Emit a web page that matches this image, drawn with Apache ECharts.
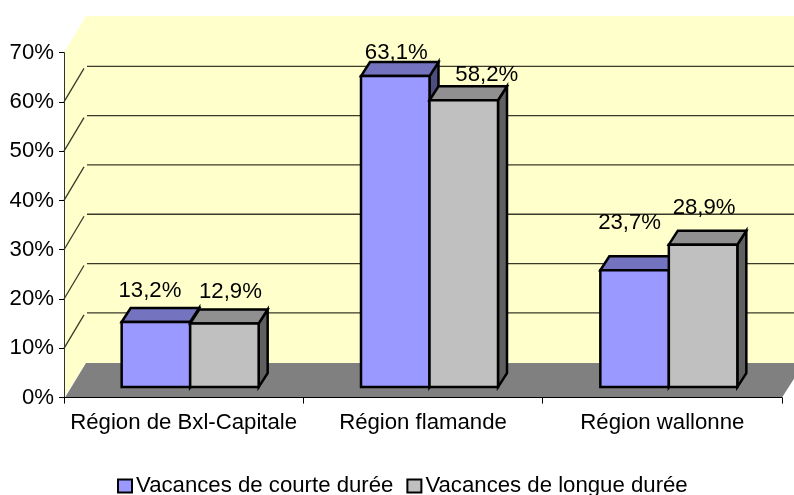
<!DOCTYPE html>
<html>
<head>
<meta charset="utf-8">
<style>html,body{margin:0;padding:0;background:#fff}#c{width:794px;height:495px}</style>
<script src="https://cdn.jsdelivr.net/npm/echarts@6/dist/echarts.min.js"></script>
</head>
<body>
<div id="c"></div>
<script>
var categories = ['Région de Bxl-Capitale', 'Région flamande', 'Région wallonne'];
var courteDuree = [13.2, 63.1, 23.7];
var longueDuree = [12.9, 58.2, 28.9];
var seriesNames = ['Vacances de courte durée', 'Vacances de longue durée'];
var gridValues = [10, 20, 30, 40, 50, 60];

// layout / style, kept apart from the data
var FONT = '"Liberation Sans", Arial, sans-serif';
var FS = 22.2;
var WALL_DX = 22, WALL_DY = 35.5;          // chart depth
var WALL_TOP_DY = 36.5, FLOOR_DY = 34.5;   // wall top edge and floor back edge
var BAR_OFF_DX = 6.5, BAR_OFF_DY = 10.5;   // bar front from axis plane
var BAR_DX = 9, BAR_DY = 14;               // bar depth
var BAR_W = 68.5;
var BAR_LW = 2.5;
var colors = [
  {front: '#9999FF', top: '#7373BF', side: '#4D4D80'},
  {front: '#C0C0C0', top: '#909090', side: '#606060'}
];
// hand-placed label centres relative to the top of each bar's front-face centre
var labelNudge = [
  [[-6, -31], [6, -32]],
  [[1, -23], [23, -25]],
  [[-5, -47], [1, -37]]
];

var chart = echarts.init(document.getElementById('c'), null, {renderer: 'canvas'});

function poly(points, fill, stroke, lw) {
  return {
    type: 'polygon', shape: {points: points},
    style: {fill: fill, stroke: stroke || null, lineWidth: lw || 0, lineJoin: 'miter'}
  };
}
function seg(x1, y1, x2, y2) {
  return {type: 'line', shape: {x1: x1, y1: y1, x2: x2, y2: y2},
    style: {stroke: '#3a3a2a', lineWidth: 1.3}};
}

function renderWall(params, api) {
  var c = params.coordSys, l = c.x, r = c.x + c.width, t = c.y, b = c.y + c.height;
  return {type: 'group', children: [
    poly([[l, t], [l + WALL_DX, t - WALL_TOP_DY], [r + WALL_DX, t - WALL_TOP_DY], [r + WALL_DX, b - FLOOR_DY], [l + WALL_DX, b - FLOOR_DY], [l, b]], '#FFFFCC'),
    poly([[l + 1, b], [l + WALL_DX, b - FLOOR_DY], [r + WALL_DX, b - FLOOR_DY], [r, b]], '#808080')
  ]};
}
function renderGrid(params, api) {
  var c = params.coordSys;
  var y = api.coord([0, api.value(1)])[1];
  return {type: 'group', children: [
    seg(c.x, y, c.x + WALL_DX - 2, y - WALL_DY + 2),
    seg(c.x + WALL_DX + 1, y - WALL_DY, c.x + c.width + WALL_DX, y - WALL_DY)
  ]};
}
function makeBarRenderer(si) {
  return function (params, api) {
    var cat = api.value(0), val = api.value(1);
    var p = api.coord([cat, val]), p0 = api.coord([cat, 0]);
    var xl = p[0] + BAR_OFF_DX + (si - 1) * BAR_W;
    var xr = xl + BAR_W;
    var yt = p[1] - BAR_OFF_DY, yb = p0[1] - BAR_OFF_DY;
    var col = colors[si];
    var n = labelNudge[cat][si];
    var text = val.toFixed(1).replace('.', ',') + '%';
    return {type: 'group', children: [
      poly([[xr, yt], [xr + BAR_DX, yt - BAR_DY], [xr + BAR_DX, yb - BAR_DY], [xr, yb]], col.side, '#000', BAR_LW),
      poly([[xl, yt], [xl + BAR_DX, yt - BAR_DY], [xr + BAR_DX, yt - BAR_DY], [xr, yt]], col.top, '#000', BAR_LW),
      poly([[xl, yt], [xr, yt], [xr, yb], [xl, yb]], col.front, '#000', BAR_LW),
      {type: 'text', z2: 50, style: {
        x: (xl + xr) / 2 + n[0], y: yt + n[1], text: text, align: 'center', verticalAlign: 'middle',
        fill: '#000', font: FS + 'px ' + FONT
      }}
    ]};
  };
}
function pairs(values) { return values.map(function (v, i) { return [i, v]; }); }

chart.setOption({
  animation: false,
  backgroundColor: '#fff',
  grid: {left: 64, right: 12, top: 52.6, bottom: 97.4, containLabel: false},
  legend: {
    left: 112, top: 470, selectedMode: false, itemWidth: 14, itemHeight: 13, itemGap: 13,
    textStyle: {fontFamily: FONT, fontSize: FS, color: '#000', padding: [0, 0, 0, -1]},
    data: [
      {name: seriesNames[0], icon: 'rect', itemStyle: {color: colors[0].front, borderColor: '#000', borderWidth: 2}},
      {name: seriesNames[1], icon: 'rect', itemStyle: {color: colors[1].front, borderColor: '#000', borderWidth: 2}}
    ]
  },
  xAxis: {
    type: 'category', data: categories, z: 10,
    axisLine: {lineStyle: {color: '#000', width: 1}},
    axisTick: {show: true, alignWithLabel: false, length: 6, lineStyle: {color: '#000'}},
    axisLabel: {fontFamily: FONT, fontSize: FS, color: '#000', margin: 14, interval: 0},
    splitLine: {show: false}
  },
  yAxis: {
    type: 'value', min: 0, max: 70, interval: 10, z: 10,
    axisLine: {show: true, lineStyle: {color: '#333', width: 1}},
    axisTick: {show: true, length: 5, lineStyle: {color: '#000'}},
    axisLabel: {fontFamily: FONT, fontSize: FS, color: '#000', margin: 10, formatter: '{value}%', padding: [3, 0, 0, 0]},
    splitLine: {show: false}
  },
  series: [
    {type: 'custom', name: 'wall', z: 1, silent: true, renderItem: renderWall, data: [[0, 0]], encode: {x: 0, y: 1}},
    {type: 'custom', name: 'grid', z: 2, silent: true, renderItem: renderGrid,
      data: gridValues.map(function (v) { return [0, v]; }), encode: {x: 0, y: 1}},
    {type: 'custom', name: seriesNames[0], z: 3, silent: true, renderItem: makeBarRenderer(0),
      data: pairs(courteDuree), encode: {x: 0, y: 1}, itemStyle: {color: colors[0].front}},
    {type: 'custom', name: seriesNames[1], z: 4, silent: true, renderItem: makeBarRenderer(1),
      data: pairs(longueDuree), encode: {x: 0, y: 1}, itemStyle: {color: colors[1].front}}
  ]
});
</script>
</body>
</html>
